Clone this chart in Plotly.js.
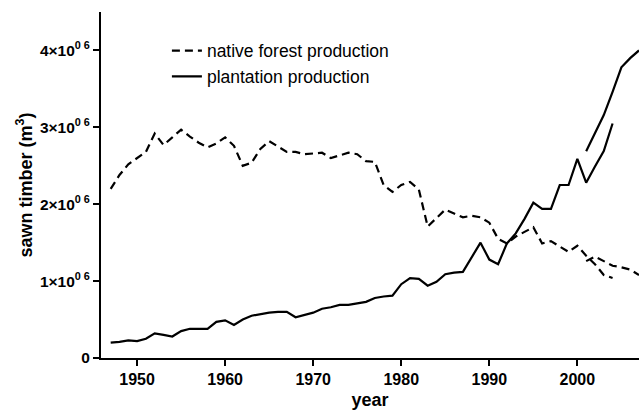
<!DOCTYPE html>
<html>
<head>
<meta charset="utf-8">
<script src="https://cdn.plot.ly/plotly-3.0.1.min.js"></script>
<style>html,body{margin:0;padding:0;background:#fff;}#chart{width:639px;height:410px;}</style>
</head>
<body>
<div id="chart"></div>
<script>
// Years
const yearsMain = [1947,1948,1949,1950,1951,1952,1953,1954,1955,1956,1957,1958,1959,1960,1961,1962,1963,1964,1965,1966,1967,1968,1969,1970,1971,1972,1973,1974,1975,1976,1977,1978,1979,1980,1981,1982,1983,1984,1985,1986,1987,1988,1989,1990,1991,1992,1993,1994,1995,1996,1997,1998,1999,2000,2001,2002,2003,2004];
const yearsRecent = [2001,2002,2003,2004,2005,2006,2007];

// Native forest production (m3)
const nativeMain = [2.20,2.38,2.52,2.60,2.68,2.92,2.77,2.87,2.97,2.88,2.80,2.74,2.79,2.87,2.76,2.50,2.54,2.72,2.82,2.75,2.68,2.68,2.65,2.66,2.67,2.60,2.63,2.67,2.65,2.56,2.55,2.25,2.16,2.25,2.29,2.19,1.71,1.82,1.93,1.88,1.83,1.85,1.83,1.76,1.55,1.49,1.58,1.64,1.70,1.49,1.52,1.45,1.38,1.46,1.33,1.22,1.08,1.04].map(v => v * 1e6);
const nativeRecent = [1.26,1.32,1.26,1.20,1.18,1.15,1.08].map(v => v * 1e6);

// Plantation production (m3)
const plantMain = [0.20,0.21,0.23,0.22,0.25,0.32,0.30,0.28,0.35,0.38,0.38,0.38,0.47,0.49,0.43,0.50,0.55,0.57,0.59,0.60,0.60,0.53,0.56,0.59,0.64,0.66,0.69,0.69,0.71,0.73,0.78,0.80,0.81,0.96,1.04,1.03,0.94,0.99,1.09,1.11,1.12,1.31,1.50,1.28,1.22,1.49,1.62,1.81,2.02,1.94,1.94,2.25,2.25,2.59,2.28,2.49,2.69,3.05].map(v => v * 1e6);
const plantRecent = [2.69,2.92,3.16,3.46,3.78,3.90,4.00].map(v => v * 1e6);

// Tick labels
const yTickVals = [0,1e6,2e6,3e6,4e6];
const yTickText = ['0','1×10<sup>0 6</sup>','2×10<sup>0 6</sup>','3×10<sup>0 6</sup>','4×10<sup>0 6</sup>'];
const xTickVals = [1950,1960,1970,1980,1990,2000];
const xTickText = ['1950','1960','1970','1980','1990','2000'];

const dashLine = {color:'#000', width:2.2, dash:'8px,5px'};
const solidLine = {color:'#000', width:2.2};

const traces = [
  {x: yearsMain, y: nativeMain, type:'scatter', mode:'lines', name:'native forest production', line: dashLine, showlegend:true},
  {x: yearsMain, y: plantMain, type:'scatter', mode:'lines', name:'plantation production', line: solidLine, showlegend:true},
  {x: yearsRecent, y: nativeRecent, type:'scatter', mode:'lines', name:'native forest production (recent)', line: dashLine, showlegend:false},
  {x: yearsRecent, y: plantRecent, type:'scatter', mode:'lines', name:'plantation production (recent)', line: solidLine, showlegend:false}
];

const FONT = '"Liberation Sans", Arial, sans-serif';

const layout = {
  width: 639, height: 410,
  margin: {l:101, r:0, t:12, b:52, pad:0},
  paper_bgcolor:'#fff', plot_bgcolor:'#fff',
  font: {family:FONT, color:'#000'},
  showlegend: true,
  legend: {x:0.1225, y:0.94, xanchor:'left', yanchor:'top', bgcolor:'rgba(0,0,0,0)', borderwidth:0,
           font:{size:17.5, family:FONT, color:'#000'}, tracegroupgap:0},
  xaxis: {
    range:[1945.9, 2007], showgrid:false, zeroline:false,
    showline:true, linecolor:'#000', linewidth:2,
    ticks:'outside', ticklen:6, tickwidth:2, tickcolor:'#000',
    tickvals: xTickVals, ticktext: xTickText,
    tickfont:{size:16, family:FONT, weight:'bold', color:'#000'},
    title:{text:'<b>year</b>', font:{size:18, family:FONT, color:'#000'}, standoff:6}
  },
  yaxis: {
    range:[0, 4.5e6], showgrid:false, zeroline:false,
    showline:true, linecolor:'#000', linewidth:2,
    ticks:'outside', ticklen:6, tickwidth:2, tickcolor:'#000',
    tickvals: yTickVals, ticktext: yTickText,
    tickfont:{size:15.5, family:FONT, weight:'bold', color:'#000'},
    title:{text:'<b>sawn timber (m<sup>3</sup>)</b>', font:{size:18, family:FONT, color:'#000'}, standoff:3}
  }
};

Plotly.newPlot('chart', traces, layout, {displayModeBar:false, staticPlot:true});
</script>
</body>
</html>
